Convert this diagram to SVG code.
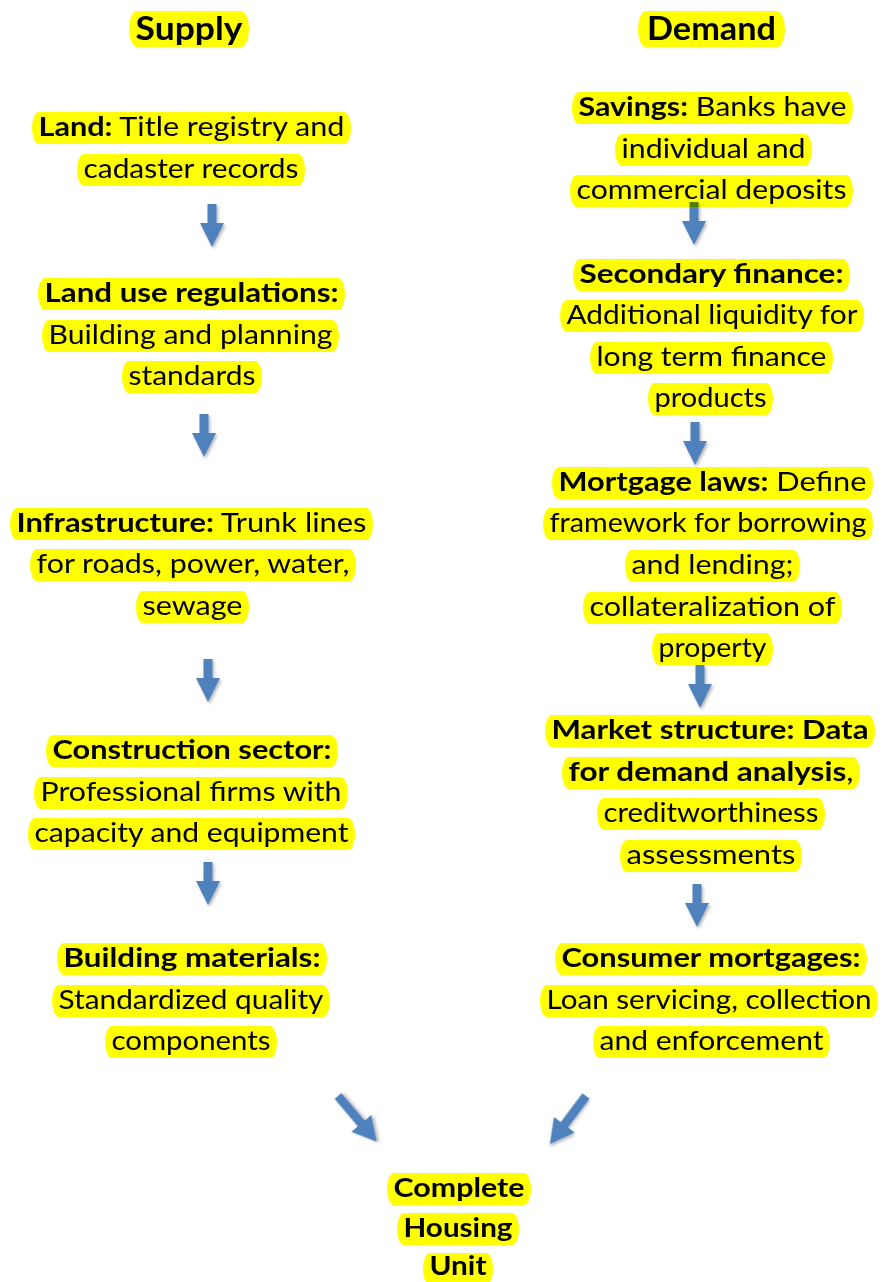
<svg xmlns="http://www.w3.org/2000/svg" width="883" height="1282" viewBox="0 0 883 1282">
  <defs>
    <style>
      .hl { fill: #FFFF00; mix-blend-mode: multiply; }
      .t { font-family: Lato, "Liberation Sans", "DejaVu Sans", sans-serif; font-size: 26.67px; fill: #000; text-anchor: middle; }
      .h { font-size: 32px; font-weight: bold; }
      .b { font-weight: bold; }
      .arrow { fill: #4F81BD; filter: url(#shadow); }
    </style>
    <filter id="shadow" x="-50%" y="-50%" width="200%" height="200%">
      <feDropShadow dx="1.5" dy="2" stdDeviation="1.5" flood-color="#000" flood-opacity="0.3"/>
    </filter>
    <!-- block arrow, origin at the tail centre, pointing down -->
    <path id="down" d="M-4.5,0 H4.5 V19 H12 L0,43 L-12,19 H-4.5 Z"/>
    <path id="diag" d="M-4.5,0 H4.5 V36 H13 L0,60 L-13,36 H-4.5 Z"/>
  </defs>

  <rect width="883" height="1282" fill="#fff"/>

  <!-- connectors -->
  <g id="connectors">
    <use href="#down" class="arrow" x="212" y="204"/>
    <use href="#down" class="arrow" x="204" y="414"/>
    <use href="#down" class="arrow" x="208" y="659"/>
    <use href="#down" class="arrow" x="208" y="862"/>
    <use href="#down" class="arrow" x="694" y="202"/>
    <use href="#down" class="arrow" x="695" y="422"/>
    <use href="#down" class="arrow" x="700" y="665"/>
    <use href="#down" class="arrow" x="697" y="884"/>
    <use href="#diag" class="arrow" transform="translate(338,1096) rotate(-40.3)"/>
    <use href="#diag" class="arrow" transform="translate(586,1096) rotate(36.9)"/>
  </g>

  <!-- column headings -->
  <g id="supply-title">
    <rect class="hl" x="129" y="11" width="120" height="36" rx="8" ry="18"/>
    <text class="t h" x="189" y="40" textLength="107" lengthAdjust="spacingAndGlyphs">Supply</text>
  </g>
  <g id="demand-title">
    <rect class="hl" x="638" y="11" width="147" height="36" rx="8" ry="18"/>
    <text class="t h" x="711.5" y="40" textLength="129" lengthAdjust="spacingAndGlyphs">Demand</text>
  </g>

  <!-- supply chain -->
  <g id="land">
    <rect class="hl" x="32" y="112" width="319" height="32" rx="7" ry="16"/>
    <rect class="hl" x="77" y="154" width="228" height="32" rx="7" ry="16"/>
    <text class="t" x="191.5" y="136" textLength="306" lengthAdjust="spacingAndGlyphs"><tspan class="b">Land:</tspan> Title registry and</text>
    <text class="t" x="191" y="178" textLength="215" lengthAdjust="spacingAndGlyphs">cadaster records</text>
  </g>
  <g id="land-use">
    <rect class="hl" x="38" y="278" width="307" height="32" rx="7" ry="16"/>
    <rect class="hl" x="42" y="320" width="297" height="32" rx="7" ry="16"/>
    <rect class="hl" x="122" y="361" width="140" height="32" rx="7" ry="16"/>
    <text class="t b" x="191.5" y="302" textLength="294" lengthAdjust="spacingAndGlyphs">Land use regulations:</text>
    <text class="t" x="190.5" y="344" textLength="284" lengthAdjust="spacingAndGlyphs">Building and planning</text>
    <text class="t" x="192" y="385" textLength="127" lengthAdjust="spacingAndGlyphs">standards</text>
  </g>
  <g id="infrastructure">
    <rect class="hl" x="10" y="508" width="363" height="32" rx="7" ry="16"/>
    <rect class="hl" x="30" y="549" width="326" height="32" rx="7" ry="16"/>
    <rect class="hl" x="136" y="591" width="113" height="32" rx="7" ry="16"/>
    <text class="t" x="191.5" y="532" textLength="350" lengthAdjust="spacingAndGlyphs"><tspan class="b">Infrastructure:</tspan> Trunk lines</text>
    <text class="t" x="193" y="573" textLength="313" lengthAdjust="spacingAndGlyphs">for roads, power, water,</text>
    <text class="t" x="192.5" y="615" textLength="100" lengthAdjust="spacingAndGlyphs">sewage</text>
  </g>
  <g id="construction">
    <rect class="hl" x="46" y="735" width="292" height="32" rx="7" ry="16"/>
    <rect class="hl" x="34" y="777" width="314" height="32" rx="7" ry="16"/>
    <rect class="hl" x="28" y="818" width="327" height="32" rx="7" ry="16"/>
    <text class="t b" x="192" y="759" textLength="279" lengthAdjust="spacingAndGlyphs">Construction sector:</text>
    <text class="t" x="191" y="801" textLength="301" lengthAdjust="spacingAndGlyphs">Professional firms with</text>
    <text class="t" x="191.5" y="842" textLength="314" lengthAdjust="spacingAndGlyphs">capacity and equipment</text>
  </g>
  <g id="materials">
    <rect class="hl" x="57" y="943" width="270" height="32" rx="7" ry="16"/>
    <rect class="hl" x="52" y="985" width="278" height="32" rx="7" ry="16"/>
    <rect class="hl" x="105" y="1026" width="172" height="32" rx="7" ry="16"/>
    <text class="t b" x="192" y="967" textLength="257" lengthAdjust="spacingAndGlyphs">Building materials:</text>
    <text class="t" x="191" y="1009" textLength="265" lengthAdjust="spacingAndGlyphs">Standardized quality</text>
    <text class="t" x="191" y="1050" textLength="159" lengthAdjust="spacingAndGlyphs">components</text>
  </g>

  <!-- demand chain -->
  <g id="savings">
    <rect class="hl" x="572" y="92" width="281" height="32" rx="7" ry="16"/>
    <rect class="hl" x="615" y="134" width="197" height="32" rx="7" ry="16"/>
    <rect class="hl" x="570" y="175" width="283" height="32" rx="7" ry="16"/>
    <text class="t" x="712.5" y="116" textLength="268" lengthAdjust="spacingAndGlyphs"><tspan class="b">Savings:</tspan> Banks have</text>
    <text class="t" x="713.5" y="158" textLength="184" lengthAdjust="spacingAndGlyphs">individual and</text>
    <text class="t" x="711.5" y="199" textLength="270" lengthAdjust="spacingAndGlyphs">commercial deposits</text>
  </g>
  <g id="secondary-finance">
    <rect class="hl" x="573" y="259" width="277" height="32" rx="7" ry="16"/>
    <rect class="hl" x="560" y="300" width="304" height="32" rx="7" ry="16"/>
    <rect class="hl" x="590" y="342" width="243" height="32" rx="7" ry="16"/>
    <rect class="hl" x="648" y="383" width="125" height="32" rx="7" ry="16"/>
    <text class="t b" x="711.5" y="283" textLength="264" lengthAdjust="spacingAndGlyphs">Secondary finance:</text>
    <text class="t" x="712" y="324" textLength="291" lengthAdjust="spacingAndGlyphs">Additional liquidity for</text>
    <text class="t" x="711.5" y="366" textLength="230" lengthAdjust="spacingAndGlyphs">long term finance</text>
    <text class="t" x="710.5" y="407" textLength="112" lengthAdjust="spacingAndGlyphs">products</text>
  </g>
  <g id="mortgage-laws">
    <rect class="hl" x="552" y="467" width="321" height="32" rx="7" ry="16"/>
    <rect class="hl" x="543" y="508" width="330" height="32" rx="7" ry="16"/>
    <rect class="hl" x="625" y="550" width="175" height="32" rx="7" ry="16"/>
    <rect class="hl" x="583" y="592" width="259" height="32" rx="7" ry="16"/>
    <rect class="hl" x="652" y="633" width="121" height="32" rx="7" ry="16"/>
    <text class="t" x="712.5" y="491" textLength="308" lengthAdjust="spacingAndGlyphs"><tspan class="b">Mortgage laws:</tspan> Define</text>
    <text class="t" x="708" y="532" textLength="317" lengthAdjust="spacingAndGlyphs">framework for borrowing</text>
    <text class="t" x="712.5" y="574" textLength="162" lengthAdjust="spacingAndGlyphs">and lending;</text>
    <text class="t" x="712.5" y="616" textLength="246" lengthAdjust="spacingAndGlyphs">collateralization of</text>
    <text class="t" x="712.5" y="657" textLength="108" lengthAdjust="spacingAndGlyphs">property</text>
  </g>
  <g id="market-structure">
    <rect class="hl" x="545" y="715" width="330" height="32" rx="7" ry="16"/>
    <rect class="hl" x="562" y="757" width="298" height="32" rx="7" ry="16"/>
    <rect class="hl" x="597" y="798" width="228" height="32" rx="7" ry="16"/>
    <rect class="hl" x="620" y="840" width="182" height="32" rx="7" ry="16"/>
    <text class="t b" x="710" y="739" textLength="317" lengthAdjust="spacingAndGlyphs">Market structure: Data</text>
    <text class="t" x="711" y="781" textLength="285" lengthAdjust="spacingAndGlyphs"><tspan class="b">for demand analysis</tspan>,</text>
    <text class="t" x="711" y="822" textLength="215" lengthAdjust="spacingAndGlyphs">creditworthiness</text>
    <text class="t" x="711" y="864" textLength="169" lengthAdjust="spacingAndGlyphs">assessments</text>
  </g>
  <g id="consumer-mortgages">
    <rect class="hl" x="555" y="943" width="312" height="32" rx="7" ry="16"/>
    <rect class="hl" x="540" y="985" width="338" height="32" rx="7" ry="16"/>
    <rect class="hl" x="593" y="1026" width="237" height="32" rx="7" ry="16"/>
    <text class="t b" x="711" y="967" textLength="299" lengthAdjust="spacingAndGlyphs">Consumer mortgages:</text>
    <text class="t" x="709" y="1009" textLength="325" lengthAdjust="spacingAndGlyphs">Loan servicing, collection</text>
    <text class="t" x="711.5" y="1050" textLength="224" lengthAdjust="spacingAndGlyphs">and enforcement</text>
  </g>

  <!-- outcome -->
  <g id="housing-unit">
    <rect class="hl" x="387" y="1173" width="144" height="32" rx="7" ry="16"/>
    <rect class="hl" x="397" y="1213" width="122" height="32" rx="7" ry="16"/>
    <rect class="hl" x="423" y="1253" width="70" height="32" rx="7" ry="16"/>
    <text class="t b" x="459" y="1197" textLength="131" lengthAdjust="spacingAndGlyphs">Complete</text>
    <text class="t b" x="458" y="1237" textLength="109" lengthAdjust="spacingAndGlyphs">Housing</text>
    <text class="t b" x="458" y="1275" textLength="57" lengthAdjust="spacingAndGlyphs">Unit</text>
  </g>
</svg>
